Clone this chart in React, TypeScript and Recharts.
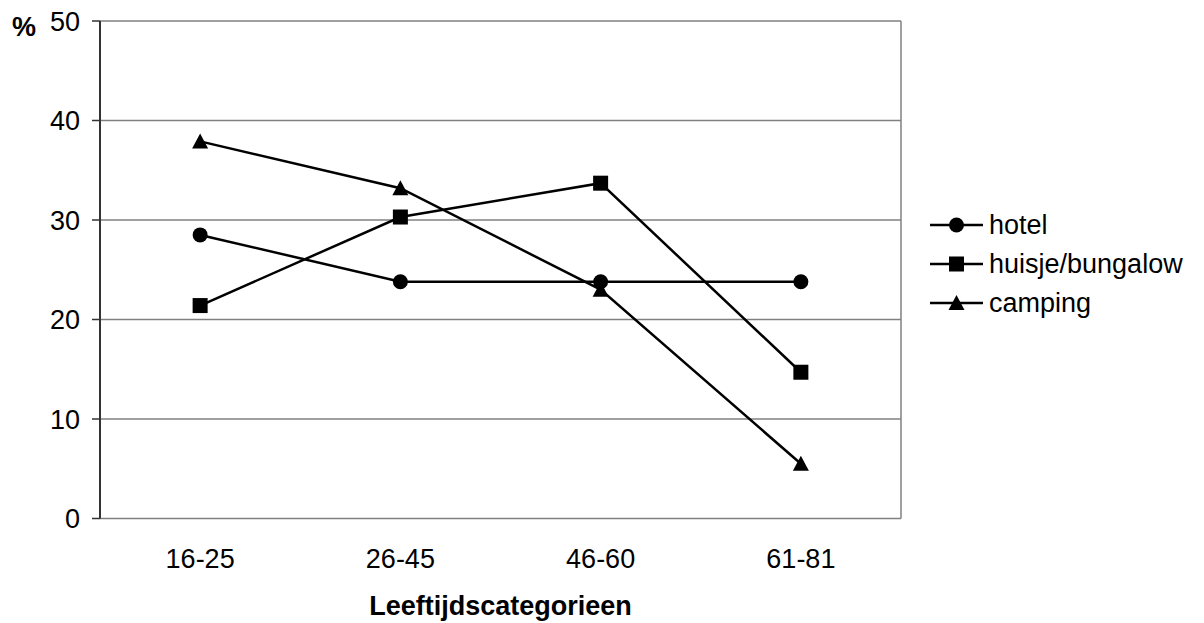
import React from 'react';
import { LineChart, Line, XAxis, YAxis, CartesianGrid, Legend } from 'recharts';

// Leeftijdscategorieen en percentages per type accommodatie
const ageGroups = ['16-25', '26-45', '46-60', '61-81'];
const hotelValues = [28.5, 23.8, 23.8, 23.8];
const bungalowValues = [21.4, 30.3, 33.7, 14.7];
const campingValues = [37.9, 33.2, 23.0, 5.5];
const yTicks = [0, 10, 20, 30, 40, 50];
const seriesNames = ['hotel', 'huisje/bungalow', 'camping'];

const FONT = '"Liberation Sans", Arial, sans-serif';

// category centres sit halfway between the boundary ticks
const chartData = ageGroups.map((group, i) => ({
  group,
  pos: i + 0.5,
  hotel: hotelValues[i],
  bungalow: bungalowValues[i],
  camping: campingValues[i],
}));
const labelTicks = chartData.map((d) => d.pos);
const boundaryTicks = [...ageGroups.map((_, i) => i), ageGroups.length];

const Circle = ({ cx, cy }: { cx: number; cy: number }) => <circle cx={cx} cy={cy} r={7.5} fill="#000" />;
const Square = ({ cx, cy }: { cx: number; cy: number }) => (
  <rect x={cx - 7.5} y={cy - 7.5} width={15} height={15} fill="#000" />
);
const Triangle = ({ cx, cy }: { cx: number; cy: number }) => (
  <polygon points={`${cx},${cy - 8} ${cx + 8},${cy + 7} ${cx - 8},${cy + 7}`} fill="#000" />
);

const markers = [Circle, Square, Triangle];

const dotRenderer = (Shape: any, name: string) => (props: any) =>
  <Shape key={`${name}-${props.index}`} cx={props.cx} cy={props.cy} />;

const renderLegend = () => (
  <div style={{ fontFamily: FONT, fontSize: 27, color: '#000' }}>
    {seriesNames.map((name, i) => {
      const Shape = markers[i];
      return (
        <div key={name} style={{ display: 'flex', alignItems: 'center', height: 39 }}>
          <svg width={53} height={20} style={{ overflow: 'visible' }}>
            <line x1={0} y1={10} x2={53} y2={10} stroke="#000" strokeWidth={2.5} />
            <Shape cx={26.5} cy={10} />
          </svg>
          <span style={{ marginLeft: 6 }}>{name}</span>
        </div>
      );
    })}
  </div>
);

const PercentLabel = ({ viewBox }: any) => (
  <text x={viewBox.x + 12} y={viewBox.y + 15} fontFamily={FONT} fontSize={27} fontWeight="bold" fill="#000">
    %
  </text>
);

export default function App() {
  const tickStyle = { fill: '#000', fontSize: 27, fontFamily: FONT };
  return (
    <div style={{ position: 'absolute', left: 0, top: 0, background: '#fff' }}>
      <LineChart width={1204} height={623} data={chartData} margin={{ top: 21, right: 303, left: 0, bottom: 0 }}>
        <CartesianGrid
          xAxisId="labels"
          stroke="#808080"
          strokeWidth={1.5}
          verticalCoordinatesGenerator={({ offset }: any) => [offset.left + offset.width]}
        />
        <XAxis
          xAxisId="bounds"
          dataKey="pos"
          type="number"
          domain={[0, ageGroups.length]}
          ticks={boundaryTicks}
          tick={false}
          tickSize={8}
          height={0}
          axisLine={{ stroke: '#333', strokeWidth: 2 }}
          tickLine={{ stroke: '#333', strokeWidth: 1.5 }}
        />
        <XAxis
          xAxisId="labels"
          dataKey="pos"
          type="number"
          domain={[0, ageGroups.length]}
          ticks={labelTicks}
          tickFormatter={(v: number) => ageGroups[Math.floor(v)]}
          tick={tickStyle}
          tickLine={false}
          axisLine={false}
          tickSize={0}
          tickMargin={30}
          height={104.5}
          label={{
            value: 'Leeftijdscategorieen',
            position: 'insideBottom',
            offset: 8,
            style: { fill: '#000', fontSize: 27, fontWeight: 'bold', fontFamily: FONT },
          }}
        />
        <YAxis
          width={100}
          domain={[0, 50]}
          ticks={yTicks}
          interval={0}
          tick={tickStyle}
          tickSize={8}
          tickMargin={12}
          axisLine={{ stroke: '#333', strokeWidth: 2 }}
          tickLine={{ stroke: '#333', strokeWidth: 1.5 }}
          label={<PercentLabel />}
        />
        <Legend
          layout="vertical"
          align="center"
          verticalAlign="middle"
          width={270}
          content={renderLegend}
          wrapperStyle={{ left: 930, top: 205.5 }}
        />
        <Line xAxisId="labels" dataKey="hotel" name="hotel" stroke="#000" strokeWidth={2.5}
          dot={dotRenderer(Circle, 'hotel')} activeDot={false} isAnimationActive={false} />
        <Line xAxisId="labels" dataKey="bungalow" name="huisje/bungalow" stroke="#000" strokeWidth={2.5}
          dot={dotRenderer(Square, 'bungalow')} activeDot={false} isAnimationActive={false} />
        <Line xAxisId="labels" dataKey="camping" name="camping" stroke="#000" strokeWidth={2.5}
          dot={dotRenderer(Triangle, 'camping')} activeDot={false} isAnimationActive={false} />
      </LineChart>
    </div>
  );
}
